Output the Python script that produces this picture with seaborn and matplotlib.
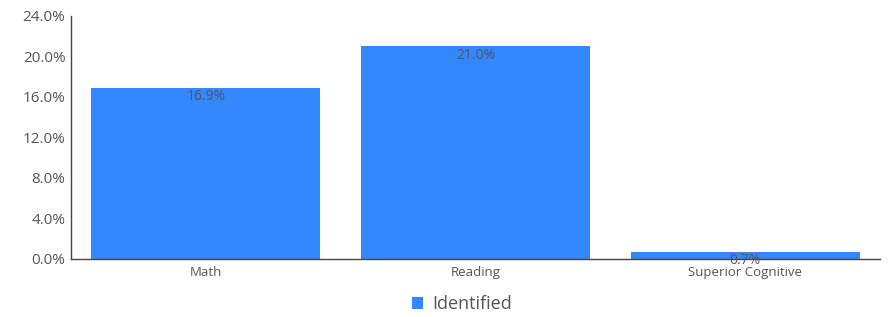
import matplotlib
matplotlib.use("Agg")
import matplotlib.pyplot as plt
import seaborn as sns
import pandas as pd
from matplotlib.patches import Patch

categories = ["Math", "Reading", "Superior Cognitive"]
identified = [16.9, 21.0, 0.7]
yticks = [0, 4, 8, 12, 16, 20, 24]
series_name = "Identified"

sns.set_theme(style="white")
plt.rcParams['font.family'] = ['Open Sans', 'DejaVu Sans']

df = pd.DataFrame({"cat": categories, "val": identified})
color = "#3388ff"
text_color = "#555555"

fig = plt.figure(figsize=(8.88, 3.17), dpi=100)
ax = fig.add_axes([0.080, 0.183, 0.911, 0.767])
sns.barplot(data=df, x="cat", y="val", color=color, saturation=1, width=0.85,
            linewidth=0, ax=ax)

ax.set_ylim(0, 24)
ax.set_xlim(-0.5, 2.5)
ax.set_yticks(yticks)
ax.set_yticklabels([f"{t:.1f}%" for t in yticks], fontsize=11, color=text_color)
ax.tick_params(axis="x", labelsize=9.5, colors=text_color, length=0, pad=5)
ax.tick_params(axis="y", length=0, pad=4)
ax.set_xlabel("")
ax.set_ylabel("")
for s in ["top", "right"]:
    ax.spines[s].set_visible(False)
for s in ["left", "bottom"]:
    ax.spines[s].set_color("#444444")
    ax.spines[s].set_linewidth(1)

for i, v in enumerate(identified):
    ax.annotate(f"{v:.1f}%", (i, v), xytext=(0, -1), textcoords="offset points",
                ha="center", va="top", fontsize=10, color=text_color)

fig.legend(handles=[Patch(facecolor=color, edgecolor="none")], labels=[series_name],
           loc="center", bbox_to_anchor=(0.52, 0.04), frameon=False, fontsize=13,
           handlelength=0.6, handleheight=0.6, handletextpad=0.5, labelcolor=text_color)

fig.savefig("out.png", dpi=100)
